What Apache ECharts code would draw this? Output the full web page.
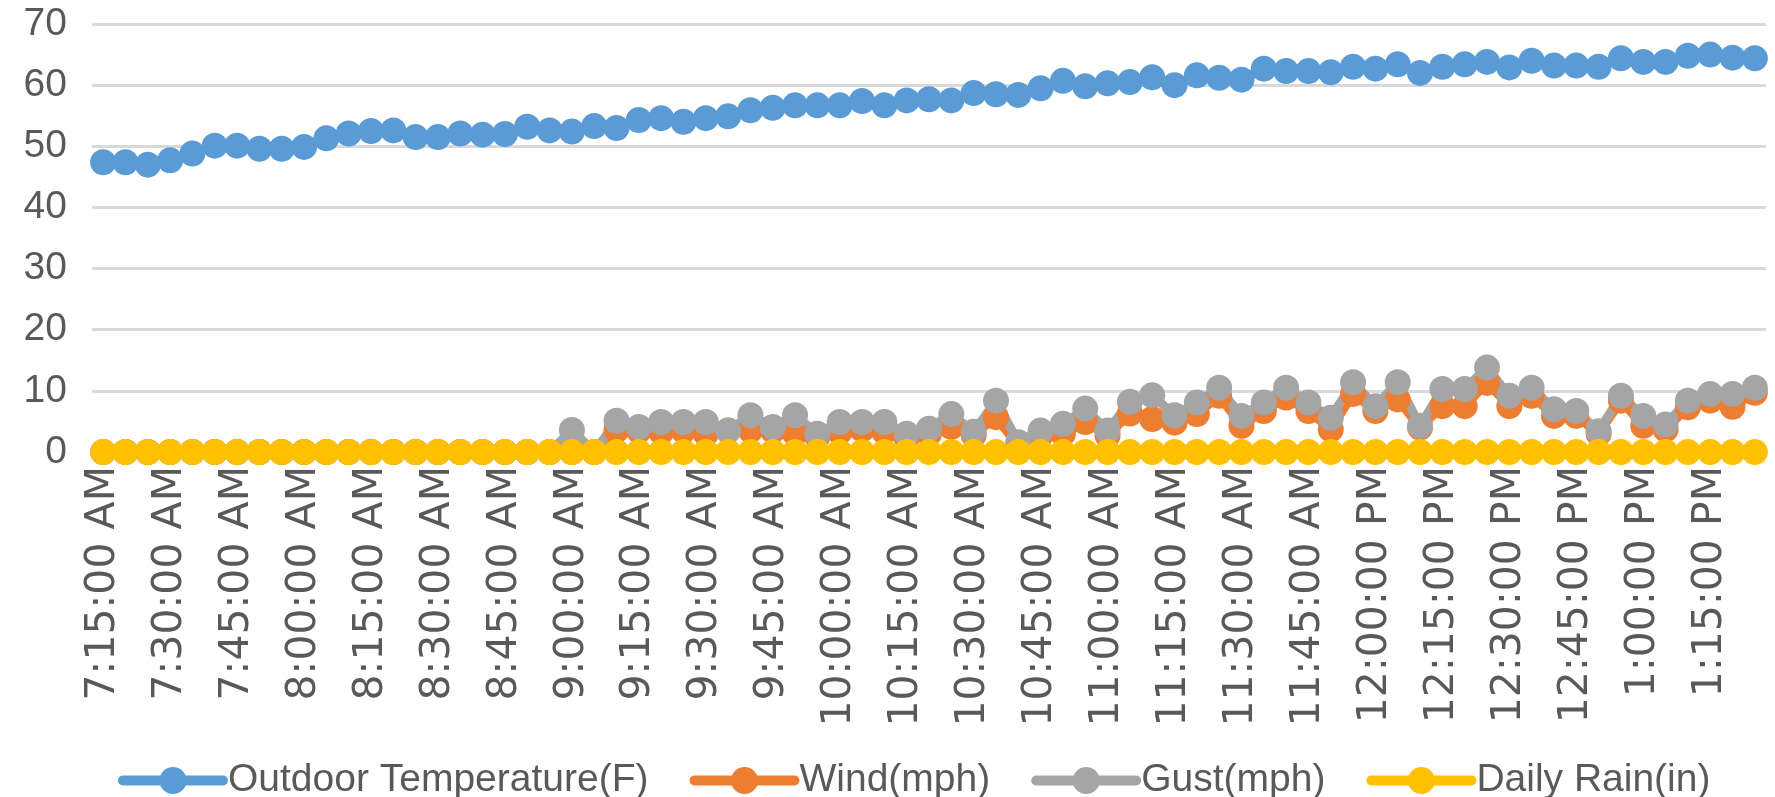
<!DOCTYPE html>
<html>
<head>
<meta charset="utf-8">
<script src="https://cdn.jsdelivr.net/npm/echarts@6/dist/echarts.min.js"></script>
<style>
html,body{margin:0;padding:0;background:#fff;}
#c{width:1775px;height:797px;}
</style>
</head>
<body>
<div id="c"></div>
<script>
const categories = [
"7:15:00 AM","7:20:00 AM","7:25:00 AM","7:30:00 AM","7:35:00 AM","7:40:00 AM","7:45:00 AM","7:50:00 AM","7:55:00 AM",
"8:00:00 AM","8:05:00 AM","8:10:00 AM","8:15:00 AM","8:20:00 AM","8:25:00 AM","8:30:00 AM","8:35:00 AM","8:40:00 AM",
"8:45:00 AM","8:50:00 AM","8:55:00 AM","9:00:00 AM","9:05:00 AM","9:10:00 AM","9:15:00 AM","9:20:00 AM","9:25:00 AM",
"9:30:00 AM","9:35:00 AM","9:40:00 AM","9:45:00 AM","9:50:00 AM","9:55:00 AM","10:00:00 AM","10:05:00 AM","10:10:00 AM",
"10:15:00 AM","10:20:00 AM","10:25:00 AM","10:30:00 AM","10:35:00 AM","10:40:00 AM","10:45:00 AM","10:50:00 AM","10:55:00 AM",
"11:00:00 AM","11:05:00 AM","11:10:00 AM","11:15:00 AM","11:20:00 AM","11:25:00 AM","11:30:00 AM","11:35:00 AM","11:40:00 AM",
"11:45:00 AM","11:50:00 AM","11:55:00 AM","12:00:00 PM","12:05:00 PM","12:10:00 PM","12:15:00 PM","12:20:00 PM","12:25:00 PM",
"12:30:00 PM","12:35:00 PM","12:40:00 PM","12:45:00 PM","12:50:00 PM","12:55:00 PM","1:00:00 PM","1:05:00 PM","1:10:00 PM",
"1:15:00 PM","1:20:00 PM","1:25:00 PM"
];

const temperature = [
47.4,47.4,47.0,47.7,48.8,50.1,50.1,49.6,49.6,
49.9,51.3,52.1,52.5,52.6,51.5,51.5,52.1,51.9,
52.0,53.2,52.6,52.4,53.3,53.0,54.3,54.6,54.0,
54.6,54.9,55.9,56.3,56.7,56.7,56.7,57.4,56.7,
57.5,57.7,57.5,58.7,58.5,58.4,59.5,60.7,59.8,
60.3,60.5,61.3,60.0,61.6,61.2,60.9,62.7,62.3,
62.3,62.1,63.0,62.7,63.4,62.0,63.0,63.4,63.8,
62.9,64.0,63.2,63.2,63.0,64.4,63.8,63.8,64.8,
65.0,64.5,64.4
];

const wind = [
0,0,0,0,0,0,0,0,0,
0,0,0,0,0,0,0,0,0,
0,0,0,0,0,3.6,3.5,3.3,3.5,
3.0,3.5,3.6,3.5,3.0,2.5,3.3,3.7,3.3,
2.3,3.0,4.1,2.8,5.7,1.0,2.8,3.0,4.9,
2.7,6.3,5.4,4.8,6.2,9.2,4.3,6.7,8.9,
6.7,3.7,9.5,6.7,8.6,4.0,7.5,7.5,11.3,
7.5,9.2,5.9,5.9,3.0,8.4,4.3,3.7,7.3,
8.4,7.4,9.7
];

const gust = [
0,0,0,0,0,0,0,0,0,
0,0,0,0,0,0,0,0,0,
0,0,0,3.6,0,5.1,4.1,4.9,4.9,
4.9,3.5,6.0,4.1,6.0,3.0,4.9,4.9,4.9,
3.0,3.8,6.2,3.3,8.4,1.6,3.5,4.6,7.1,
3.5,8.2,9.3,6.0,8.1,10.5,5.9,8.1,10.5,
8.1,5.6,11.4,7.5,11.4,4.3,10.3,10.3,13.8,
9.2,10.5,7.0,6.7,3.4,9.2,5.9,4.5,8.4,
9.5,9.5,10.5
];

const dailyRain = [
0,0,0,0,0,0,0,0,0,
0,0,0,0,0,0,0,0,0,
0,0,0,0,0,0,0,0,0,
0,0,0,0,0,0,0,0,0,
0,0,0,0,0,0,0,0,0,
0,0,0,0,0,0,0,0,0,
0,0,0,0,0,0,0,0,0,
0,0,0,0,0,0,0,0,0,
0,0,0
];

const yTicks = [0,10,20,30,40,50,60,70];

const seriesNames = ["Outdoor Temperature(F)","Wind(mph)","Gust(mph)","Daily Rain(in)"];
const seriesColors = ["#5b9bd5","#ed7d31","#a5a5a5","#ffc000"];
const seriesData = [temperature, wind, gust, dailyRain];

const FONT = "'Liberation Sans', Arial, sans-serif";
const XFONT = "'DejaVu Sans', Verdana, sans-serif";
const TXT = "#595959";

const chart = echarts.init(document.getElementById('c'), null, {renderer:'canvas'});
chart.setOption({
  animation: false,
  backgroundColor: '#ffffff',
  grid: {left: 92, right: 9, top: 24, bottom: 345, containLabel: false},
  xAxis: {
    type: 'category',
    data: categories,
    boundaryGap: true,
    axisLine: {show: true, lineStyle: {color: '#d9d9d9', width: 3}},
    axisTick: {show: false},
    axisLabel: {
      interval: 2, rotate: 90, margin: 14,
      color: TXT, fontFamily: XFONT, fontSize: 41
    },
    splitLine: {show: false}
  },
  yAxis: {
    type: 'value',
    min: yTicks[0], max: yTicks[yTicks.length-1], interval: 10,
    axisLine: {show: false},
    axisTick: {show: false},
    axisLabel: {color: TXT, fontFamily: FONT, fontSize: 39, margin: 25},
    splitLine: {show: true, lineStyle: {color: '#d9d9d9', width: 3}}
  },
  legend: {
    show: true,
    left: 113, top: 756,
    orient: 'horizontal',
    itemWidth: 100, itemHeight: 34, itemGap: 41,
    textStyle: {color: TXT, fontFamily: FONT, fontSize: 39},
    lineStyle: {width: 10, cap: 'round'},
    data: seriesNames
  },
  series: seriesNames.map((name, i) => ({
    name: name,
    type: 'line',
    data: seriesData[i],
    symbol: 'circle',
    symbolSize: 26,
    showAllSymbol: true,
    color: seriesColors[i],
    lineStyle: {color: seriesColors[i], width: 9, cap: 'round', join: 'round'},
    itemStyle: {color: seriesColors[i], borderWidth: 0},
    emphasis: {disabled: true}
  }))
});
</script>
</body>
</html>
